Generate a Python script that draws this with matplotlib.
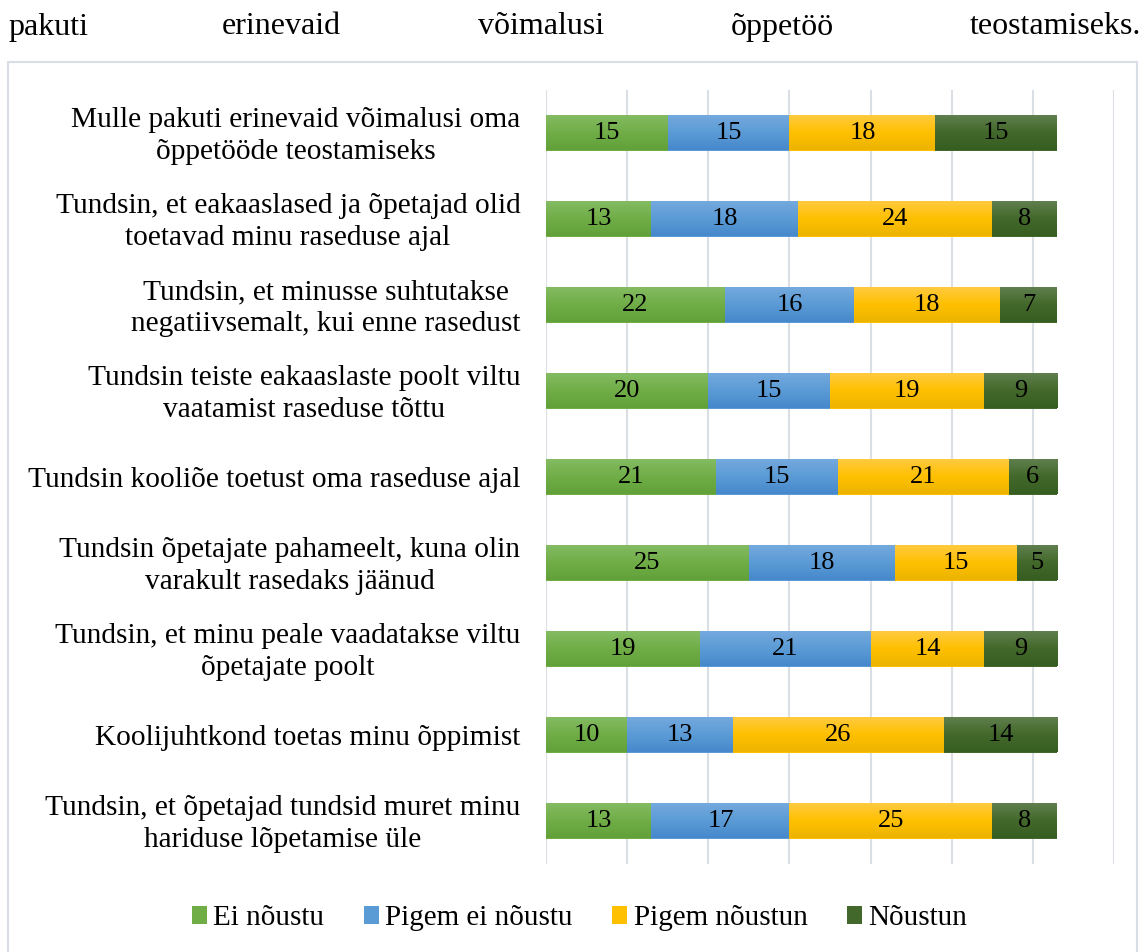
import matplotlib
matplotlib.use("Agg")
import matplotlib.pyplot as plt
from matplotlib.patches import Rectangle
from matplotlib.colors import to_rgb
from matplotlib.transforms import ScaledTranslation
import numpy as np

categories = [
    "Mulle pakuti erinevaid võimalusi oma\nõppetööde teostamiseks",
    "Tundsin, et eakaaslased ja õpetajad olid\ntoetavad minu raseduse ajal",
    "Tundsin, et minusse suhtutakse\nnegatiivsemalt, kui enne rasedust",
    "Tundsin teiste eakaaslaste poolt viltu\nvaatamist raseduse tõttu",
    "Tundsin kooliõe toetust oma raseduse ajal",
    "Tundsin õpetajate pahameelt, kuna olin\nvarakult rasedaks jäänud",
    "Tundsin, et minu peale vaadatakse viltu\nõpetajate poolt",
    "Koolijuhtkond toetas minu õppimist",
    "Tundsin, et õpetajad tundsid muret minu\nhariduse lõpetamise üle",
]
series_names = ["Ei nõustu", "Pigem ei nõustu", "Pigem nõustun", "Nõustun"]
ei_noustu = [15, 13, 22, 20, 21, 25, 19, 10, 13]
pigem_ei_noustu = [15, 18, 16, 15, 15, 18, 21, 13, 17]
pigem_noustun = [18, 24, 18, 19, 21, 15, 14, 26, 25]
noustun = [15, 8, 7, 9, 6, 5, 9, 14, 8]
top_words = ["pakuti", "erinevaid", "võimalusi", "õppetöö", "teostamiseks."]

colors = ["#70AD47", "#5B9BD5", "#FFC000", "#43682B"]
grad_top = ["#84BB62", "#74A9DE", "#FFCA40", "#5F7F4D"]
grad_bot = ["#62A13A", "#4688CC", "#ECB400", "#375E21"]

plt.rcParams['font.family'] = ['Liberation Serif', 'DejaVu Serif']

W, H = 1145, 952
fig = plt.figure(figsize=(W / 100, H / 100), dpi=100)

# top document text (justified)
word_x = [8, 222, 478, 731]
for w, x in zip(top_words[:-1], word_x):
    fig.text(x / W, 1 - 27 / H, w, ha='left', va='center', fontsize=23)
fig.text(1141 / W, 1 - 27 / H, top_words[-1], ha='right', va='center', fontsize=23)

# chart border
fig.patches.append(Rectangle((8 / W, -0.01), (1137 - 8) / W, 1 - 62 / H + 0.01,
                             transform=fig.transFigure, fill=False,
                             edgecolor='#D9DEE6', linewidth=1.5))

ax = fig.add_axes([546 / W, 88 / H, 568 / W, (864 - 90) / H])
data = [ei_noustu, pigem_ei_noustu, pigem_noustun, noustun]
y = np.arange(len(categories))
left = np.zeros(len(categories))
bar_h = 35 / 86
for i, (name, vals, c) in enumerate(zip(series_names, data, colors)):
    vals = np.array(vals)
    bars = ax.barh(y, vals, left=left, height=bar_h, color=c, label=name, zorder=3)
    t = np.array(to_rgb(grad_top[i]))
    m = np.array(to_rgb(c))
    bt = np.array(to_rgb(grad_bot[i]))
    s = np.linspace(0, 1, 64)[:, None]
    g = np.where(s < 0.5, t + (m - t) * (s / 0.5), m + (bt - m) * ((s - 0.5) / 0.5))
    grad = g[:, None, :]
    for b, v in zip(bars, vals):
        x0, y0, bw, bh = b.get_x(), b.get_y(), b.get_width(), b.get_height()
        ax.imshow(grad, extent=(x0, x0 + bw, y0 + bh, y0), aspect='auto',
                  origin='upper', zorder=3.5, interpolation='bilinear')
        ax.text(x0 + bw / 2, y0 + bh / 2, str(v),
                ha='center', va='center', fontsize=19, zorder=4)
    left += vals

ax.set_xlim(0, 70)
ax.set_ylim(len(categories) - 0.5, -0.5)
ax.set_aspect('auto')
ax.set_xticks(np.arange(0, 71, 10))
ax.set_xticklabels([])
ax.set_yticks(y)
ax.set_yticklabels(categories, fontsize=21.2, multialignment='center',
                   linespacing=1.3, va='center')
ax.tick_params(axis='both', length=0)
ax.tick_params(axis='y', pad=18.5)
shift = ScaledTranslation(0, -2.2 / 72, fig.dpi_scale_trans)
for lbl in ax.get_yticklabels():
    lbl.set_transform(lbl.get_transform() + shift)
ax.grid(axis='x', color='#DADFE6', linewidth=1.5, zorder=0)
for s_ in ax.spines.values():
    s_.set_visible(False)

handles, labels = ax.get_legend_handles_labels()
fig.legend(handles, labels, loc='center', bbox_to_anchor=(0.5 + 7 / W, 1 - 918 / H), ncol=4,
           frameon=False, fontsize=21, handlelength=0.52, handleheight=0.58,
           handletextpad=0.22, columnspacing=1.35)

fig.savefig("out.png", dpi=100)
